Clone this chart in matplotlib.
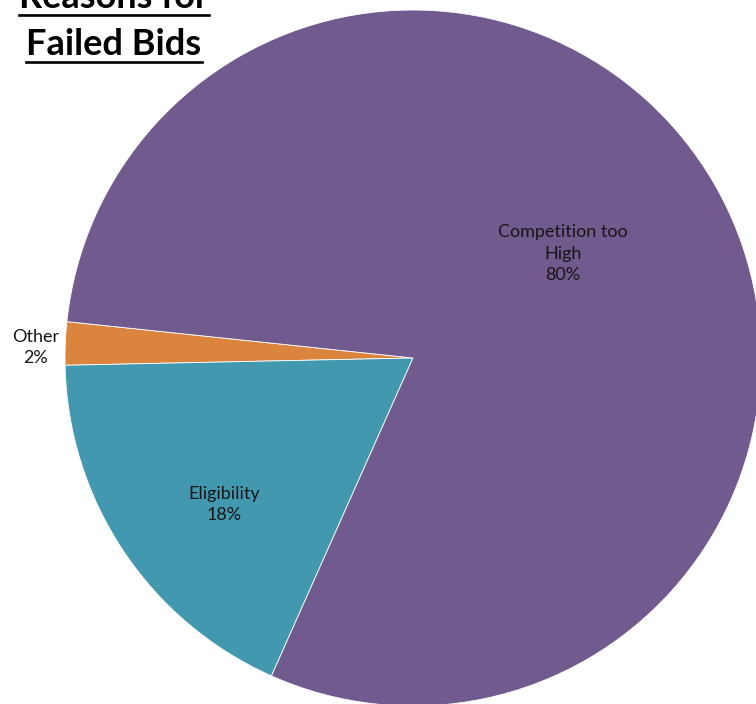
import matplotlib.pyplot as plt
from matplotlib.lines import Line2D

plt.rcParams['font.family'] = ['Lato', 'DejaVu Sans']

# data
labels = ['Other', 'Eligibility', 'Competition too\nHigh']
values = [2, 18, 80]
colors = ['#DB843D', '#4198AF', '#715A8E']
title_lines = ['Reasons for', 'Failed Bids']

W, H = 756, 704
fig = plt.figure(figsize=(W / 100, H / 100), dpi=100)

# pie centre (413, 358) px, radius 348 px
cx, cy, r = 413, 358, 348
ax = fig.add_axes([(cx - r) / W, (H - cy - r) / H, 2 * r / W, 2 * r / H])
wedges, _ = ax.pie(values, colors=colors, startangle=174, counterclock=True,
                   radius=1, wedgeprops=dict(edgecolor='white', linewidth=0.6))
ax.set_xlim(-1, 1)
ax.set_ylim(-1, 1)
ax.set_aspect('auto')
ax.axis('off')

# data labels
lab_pos = [(-1.085, 0.03), (-0.543, -0.422), (0.431, 0.300)]
for lab, v, (x, y) in zip(labels, values, lab_pos):
    ax.text(x, y, f'{lab}\n{v}%', ha='center', va='center', fontsize=13,
            color='#161616', linespacing=1.4, clip_on=False)

# title, bold + underlined
fig.canvas.draw()
renderer = fig.canvas.get_renderer()
baselines = [8, 55]
for line, b in zip(title_lines, baselines):
    t = fig.text(114 / W, 1 - b / H, line, ha='center', va='baseline',
                 fontsize=26, fontweight='bold', color='black')
    bb = t.get_window_extent(renderer)
    yl = 1 - (b + 7) / H
    fig.add_artist(Line2D([bb.x0 / W, bb.x1 / W], [yl, yl], color='black',
                          linewidth=1.9, transform=fig.transFigure))

fig.savefig('out.png', dpi=100)
